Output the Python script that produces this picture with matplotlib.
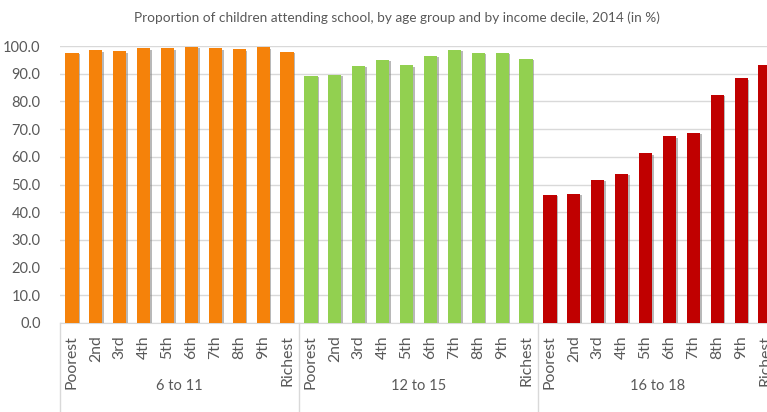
import matplotlib
matplotlib.use("Agg")
import matplotlib.pyplot as plt
import matplotlib.patheffects as pe
import numpy as np

plt.rcParams['font.family'] = ['Lato', 'DejaVu Sans']

deciles = ['Poorest', '2nd', '3rd', '4th', '5th', '6th', '7th', '8th', '9th', 'Richest']
groups = ['6 to 11', '12 to 15', '16 to 18']
age_6_11 = [97.5, 98.4, 98.1, 99.1, 99.1, 99.8, 99.1, 98.8, 99.5, 97.8]
age_12_15 = [89.3, 89.7, 92.9, 95.1, 93.0, 96.4, 98.6, 97.6, 97.6, 95.3]
age_16_18 = [46.2, 46.7, 51.7, 53.8, 61.2, 67.4, 68.6, 82.4, 88.4, 93.2]
colors = ['#F5820A', '#92D050', '#C00000']

txt = '#595959'
grid = '#d9d9d9'

fig = plt.figure(figsize=(7.67, 4.12), dpi=100)
# axes runs past the right edge, as in the cropped original
ax = fig.add_axes([60 / 767, 1 - 323 / 412, 717 / 767, 277 / 412])

n = len(deciles)
shadow = [pe.SimplePatchShadow(offset=(1.2, -1.0), shadow_rgbFace='#7f7f7f', alpha=0.55), pe.Normal()]
for g, (vals, c) in enumerate(zip([age_6_11, age_12_15, age_16_18], colors)):
    x = np.arange(n) + g * n
    bars = ax.bar(x, vals, width=0.55, color=c, zorder=3)
    for b in bars:
        b.set_path_effects(shadow)

ax.set_xlim(-0.5, 3 * n - 0.5)
ax.set_ylim(0, 100)
ax.set_yticks(np.arange(0, 101, 10))
ax.set_yticklabels([f'{v:.1f}' for v in np.arange(0, 101, 10)])
ax.yaxis.grid(True, color=grid, linewidth=1, zorder=0)
ax.set_axisbelow(True)
ax.tick_params(axis='y', length=0, pad=14, labelsize=10.5, labelcolor=txt)

ax.set_xticks(np.arange(3 * n))
ax.set_xticklabels(deciles * 3, rotation=90, fontsize=11.3, color=txt)
ax.tick_params(axis='x', length=0, pad=9)

for s in ['top', 'right', 'left']:
    ax.spines[s].set_visible(False)
ax.spines['bottom'].set_color(grid)

# group separators and group labels
tr = ax.get_xaxis_transform()
for k in range(4):
    ax.plot([k * n - 0.5] * 2, [0, -0.33], transform=tr, color=grid, lw=1, clip_on=False)
for g, name in enumerate(groups):
    ax.text(g * n + (n - 1) / 2, -0.228, name, transform=tr, ha='center', va='center',
            fontsize=10.5, color=txt)

fig.text(397 / 767, 1 - 18 / 412, 'Proportion of children attending school, by age group and by income decile, 2014 (in %)',
         ha='center', va='center', fontsize=9.8, color=txt)

fig.savefig('out.png', dpi=100)
